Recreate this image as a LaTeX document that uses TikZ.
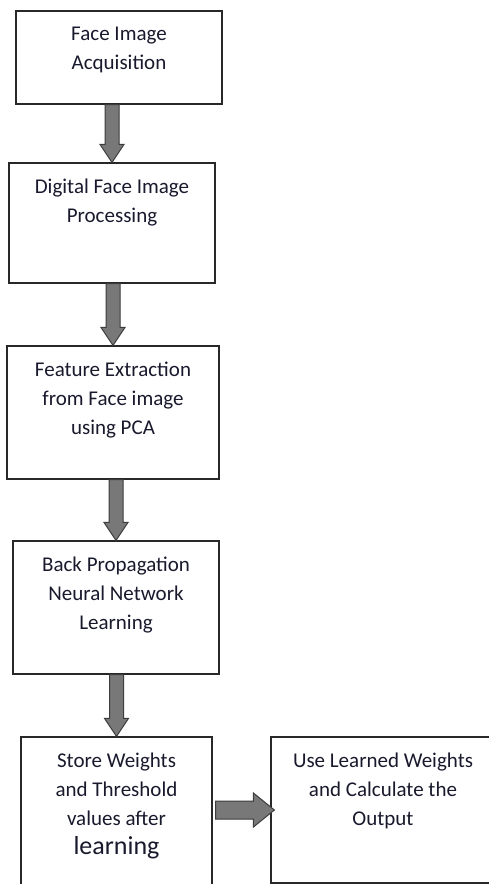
\documentclass[tikz,border=0pt]{standalone}
\usepackage{fontspec}
\setmainfont{Carlito}
\usepackage{tikz}
\usetikzlibrary{calc,positioning}
\definecolor{arrow_fill}{RGB}{120,120,120}
\definecolor{arrow_edge}{RGB}{60,60,60}
\definecolor{box_edge}{RGB}{40,40,40}
\definecolor{text_dark}{RGB}{25,25,45}

\begin{document}
\begin{tikzpicture}[x=1pt,y=-1pt]
    \tikzstyle{stage}=[draw=box_edge, line width=1.2pt, rectangle, fill=none, inner sep=0pt]
    \tikzstyle{caption}=[text=text_dark, align=center, inner sep=0pt, font=\fontsize{21}{29}\selectfont]
    \tikzstyle{blockdown}=[draw=arrow_edge, fill=arrow_fill, line width=1pt,
      to path={let \p1=(\tikztostart), \p2=(\tikztotarget) in
        (\x2-7pt,\y1) -- (\x2-7pt,\y2+18pt) -- (\x2-12pt,\y2+18pt) -- (\x2,\y2)
        -- (\x2+12pt,\y2+18pt) -- (\x2+7pt,\y2+18pt) -- (\x2+7pt,\y1) -- cycle}]
    \tikzstyle{blockright}=[draw=arrow_edge, fill=arrow_fill, line width=1pt,
      to path={let \p1=(\tikztostart), \p2=(\tikztotarget) in
        (\x1+3pt,\y2-9pt) -- (\x2-17pt,\y2-9pt) -- (\x2-17pt,\y2-17pt) -- (\x2+4pt,\y2)
        -- (\x2-17pt,\y2+17pt) -- (\x2-17pt,\y2+9pt) -- (\x1+3pt,\y2+9pt) -- cycle}]

    \useasboundingbox (0,0) rectangle (488,884);

    % boxes
    \node[stage, minimum width=206pt, minimum height=93pt]  (acq)   at (119,57.5)  {};
    \node[stage, minimum width=206pt, minimum height=120pt] (proc)  at (112,223)   {};
    \node[stage, minimum width=212pt, minimum height=133pt] (feat)  at (113,412.5) {};
    \node[stage, minimum width=206pt, minimum height=133pt] (bpnn)  at (116,607.5) {};
    \node[stage, minimum width=191pt, minimum height=163pt] (store) at (116.5,818.5) {};
    \node[stage, minimum width=224pt, minimum height=146pt] (use)   at (383,810)   {};

    % texts
    \node[caption, below=16pt of acq.north]   (acq-txt)   {Face Image\\Acquisition};
    \node[caption, below=16pt of proc.north]  (proc-txt)  {Digital Face Image\\Processing};
    \node[caption, below=16pt of feat.north]  (feat-txt)  {Feature Extraction\\from Face image\\using PCA};
    \node[caption, below=16pt of bpnn.north]  (bpnn-txt)  {Back Propagation\\Neural Network\\Learning};
    \node[caption, below=16pt of store.north] (store-txt) {Store Weights\\and Threshold\\values after\\{\fontsize{26}{29}\selectfont learning}};
    \node[caption, below=16pt of use.north]   (use-txt)   {Use Learned Weights\\and Calculate the\\Output};

    \path
     (acq.south)   edge[blockdown]  (proc.north)
     (proc.south)  edge[blockdown]  (feat.north)
     (feat.south)  edge[blockdown]  (bpnn.north)
     (bpnn.south)  edge[blockdown]  (store.north)
     (store.east)  edge[blockright] (use.west);
\end{tikzpicture}
\end{document}
